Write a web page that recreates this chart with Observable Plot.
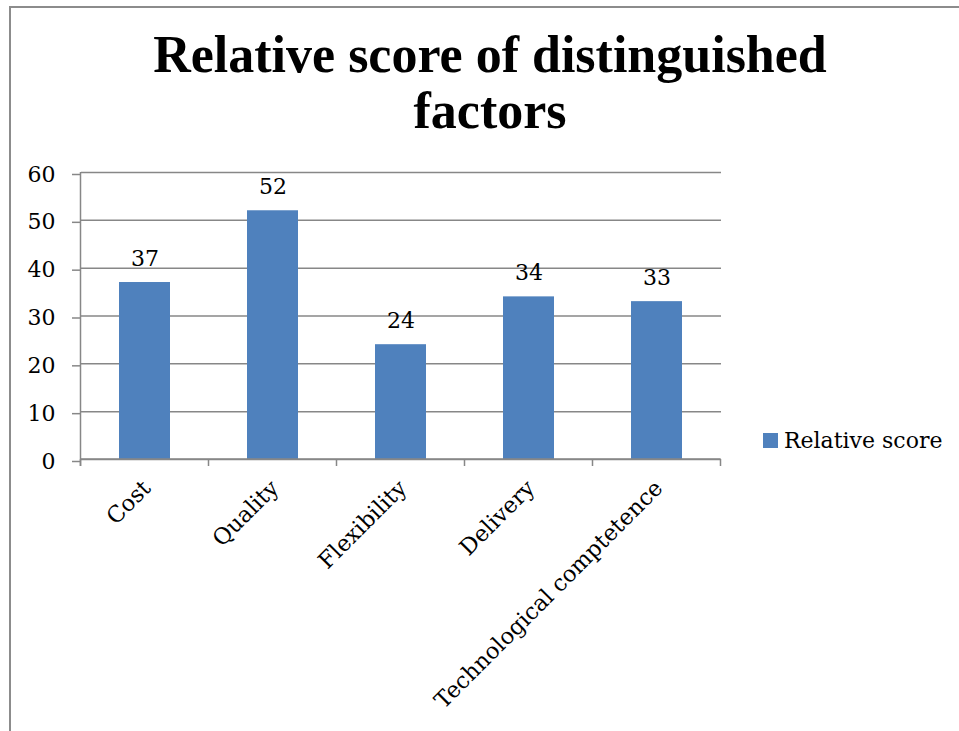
<!DOCTYPE html>
<html>
<head>
<meta charset="utf-8">
<script src="https://cdn.jsdelivr.net/npm/d3@7"></script>
<script src="https://cdn.jsdelivr.net/npm/@observablehq/plot@0.6"></script>
<style>
  body { margin: 0; background: #fff; }
  #page { position: relative; width: 959px; height: 731px; overflow: hidden; background: #fff; }
  #frame { position: absolute; left: 9px; top: 6px; width: 960px; height: 740px;
           border-left: 2px solid #8c8c8c; border-top: 2px solid #8c8c8c; }
  #chart { position: absolute; left: 0; top: 0; }
  #title { position: absolute; left: 140px; top: 27px; width: 700px; text-align: center;
           font-family: "Liberation Serif", serif; font-weight: bold; font-size: 52px;
           line-height: 56px; color: #000; }
  #legend { position: absolute; left: 763px; top: 428px; display: flex; align-items: center;
            font-family: "DejaVu Serif", serif; font-size: 22px; color: #000; }
  #legend .swatch { width: 15px; height: 15px; margin-right: 6px; }
</style>
</head>
<body>
<div id="page">
  <div id="frame"></div>
  <div id="chart"></div>
  <div id="title">Relative score of distinguished<br>factors</div>
  <div id="legend"><span class="swatch"></span><span class="label"></span></div>
</div>
<script>
// Relative score for each distinguished factor
const factors = ["Cost", "Quality", "Flexibility", "Delivery", "Technological comptetence"];
const scores = [37, 52, 24, 34, 33];
const yTicks = [0, 10, 20, 30, 40, 50, 60];
const seriesName = "Relative score";

const barColor = "#4F81BD";
const lineColor = "#878787";

const data = factors.map((factor, i) => ({factor, score: scores[i]}));

const marks = [
  Plot.ruleY(yTicks, {stroke: lineColor, strokeWidth: 1.5}),
  Plot.barY(data, {x: "factor", y: "score", fill: barColor}),
  Plot.text(data, {x: "factor", y: "score", text: d => String(d.score), dy: -24, fill: "#000"}),
  Plot.text(factors, {x: d => d, frameAnchor: "bottom", rotate: -45, textAnchor: "end",
                      dx: 7, dy: 30, fill: "#000", fontSize: 22.5})
];
if (Plot.axisY) {
  marks.push(Plot.axisY(yTicks, {tickSize: 9, tickPadding: 17, stroke: lineColor,
                                 strokeWidth: 1.5, fill: "#000", dy: 2, label: null}));
}

const chart = Plot.plot({
  width: 959,
  height: 731,
  marginLeft: 81,
  marginRight: 238,
  marginTop: 172,
  marginBottom: 272,
  style: {fontFamily: "DejaVu Serif, serif", fontSize: "22px", background: "transparent", color: "#000"},
  x: {domain: factors, paddingInner: 0.6, paddingOuter: 0.3, axis: null, label: null},
  y: {domain: [0, 60], axis: Plot.axisY ? null : "left", label: null, ticks: yTicks, tickSize: 9, tickPadding: 17},
  marks
});
document.getElementById("chart").appendChild(chart);

// Axis lines and category boundary ticks, placed from the chart's own scales
const xs = chart.scale("x");
const ys = chart.scale("y");
const gap = (xs.step - xs.bandwidth) / 2;
const bounds = factors.map(f => xs.apply(f) - gap);
bounds.push(xs.apply(factors[factors.length - 1]) + xs.bandwidth + gap);
const y0 = ys.apply(0);
const yTop = ys.apply(60);
const svg = d3.select(chart);
const g = svg.append("g").attr("stroke", lineColor).attr("stroke-width", 1.5);
g.append("line").attr("x1", bounds[0]).attr("x2", bounds[0]).attr("y1", yTop).attr("y2", y0 + 7);
g.append("line").attr("x1", bounds[0]).attr("x2", bounds[bounds.length - 1]).attr("y1", y0).attr("y2", y0);
bounds.forEach(b => g.append("line").attr("x1", b).attr("x2", b).attr("y1", y0).attr("y2", y0 + 7));

// Legend
document.querySelector("#legend .swatch").style.background = barColor;
document.querySelector("#legend .label").textContent = seriesName;
</script>
</body>
</html>
